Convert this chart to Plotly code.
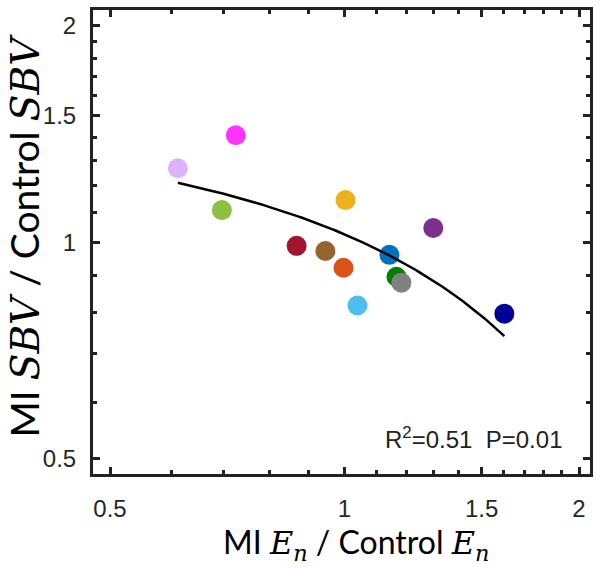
import numpy as np
import plotly.graph_objects as go

# Data (MI / Control ratios)
en_ratio = [0.611, 0.725, 0.696, 1.003, 1.300, 0.868, 0.945, 0.997, 1.142, 1.166, 1.183, 1.039, 1.604]
sbv_ratio = [1.268, 1.409, 1.109, 1.145, 1.047, 0.989, 0.973, 0.922, 0.961, 0.896, 0.879, 0.817, 0.796]
point_colors = ["#DDB3FF", "#FF33FF", "#8DC040", "#EDB120", "#7E2F8E", "#A2142F", "#96642F",
                "#D95319", "#0072BD", "#008000", "#808080", "#4DBEEE", "#000099"]
x_ticks = [0.5, 1, 1.5, 2]
y_ticks = [0.5, 1, 1.5, 2]
minor_ticks = [0.6, 0.7, 0.8, 0.9, 1.1, 1.2, 1.3, 1.4, 1.6, 1.7, 1.8, 1.9]
stats_text = "R<sup>2</sup>=0.51  P=0.01"

# Linear least-squares fit of the data, drawn across the data range
slope, intercept = np.polyfit(en_ratio, sbv_ratio, 1)
fit_x = np.linspace(min(en_ratio), max(en_ratio), 200)
fit_y = intercept + slope * fit_x

fig = go.Figure()
fig.add_trace(go.Scatter(
    x=en_ratio, y=sbv_ratio, mode="markers",
    marker=dict(size=20, color=point_colors, line=dict(width=0)),
    showlegend=False, hoverinfo="x+y"))
fig.add_trace(go.Scatter(
    x=fit_x, y=fit_y, mode="lines",
    line=dict(color="black", width=2.5), showlegend=False, hoverinfo="skip"))

tick_font = dict(family="Liberation Sans, Arial, sans-serif", size=24, color="#262626")
axis_common = dict(
    type="log", showgrid=False, zeroline=False,
    showline=True, linewidth=3, linecolor="#222222", mirror="ticks",
    ticks="inside", ticklen=7, tickwidth=3, tickcolor="#222222",
    tickfont=tick_font,
    minor=dict(tickvals=minor_ticks, ticks="inside", ticklen=4, tickwidth=3, tickcolor="#222222"),
)
fig.update_xaxes(**axis_common, range=[np.log10(0.4755), np.log10(2.066)],
                 tickvals=x_ticks, ticktext=[str(v) for v in x_ticks], ticklabelstandoff=11)
fig.update_yaxes(**axis_common, range=[np.log10(0.4765), np.log10(2.104)],
                 tickvals=y_ticks, ticktext=[str(v) for v in y_ticks], ticklabelstandoff=9)

sans = "font-family:Lato, 'Open Sans', sans-serif"
serif = "font-family:'DejaVu Serif', 'Liberation Serif', serif"
x_title = (f"<span style=\"{sans}\">MI </span><span style=\"{serif}\"><i>E</i><sub><i>n</i></sub></span>"
           f"<span style=\"{sans}\"> / Control </span><span style=\"{serif}\"><i>E</i><sub><i>n</i></sub></span>")
y_title = (f"<span style=\"{sans}\">MI </span><span style=\"{serif}\"><i>SBV</i></span>"
           f"<span style=\"{sans}\"> / Control </span><span style=\"{serif}\"><i>SBV</i></span>")

fig.add_annotation(text=x_title, xref="paper", yref="paper", x=0.53, y=(474 - 568) / 467,
                   showarrow=False, font=dict(size=32, color="black"), xanchor="center", yanchor="bottom",
                   borderpad=0)
fig.add_annotation(text=y_title, xref="paper", yref="paper", x=-0.138, y=0.515, textangle=-90,
                   showarrow=False, font=dict(size=39, color="black"), xanchor="center", yanchor="middle")
fig.add_annotation(text=stats_text, xref="paper", yref="paper", x=0.948, y=(474 - 438) / 467,
                   showarrow=False, font=dict(family="Liberation Sans, Arial, sans-serif", size=24, color="#222222"),
                   xanchor="right", yanchor="middle")

fig.update_layout(
    width=600, height=568,
    margin=dict(l=93, r=9, t=7, b=94),
    paper_bgcolor="white", plot_bgcolor="white",
)
fig.write_html("out.html", config={"displayModeBar": False},
               post_script="document.body.style.margin='0';document.body.style.overflow='hidden';")
